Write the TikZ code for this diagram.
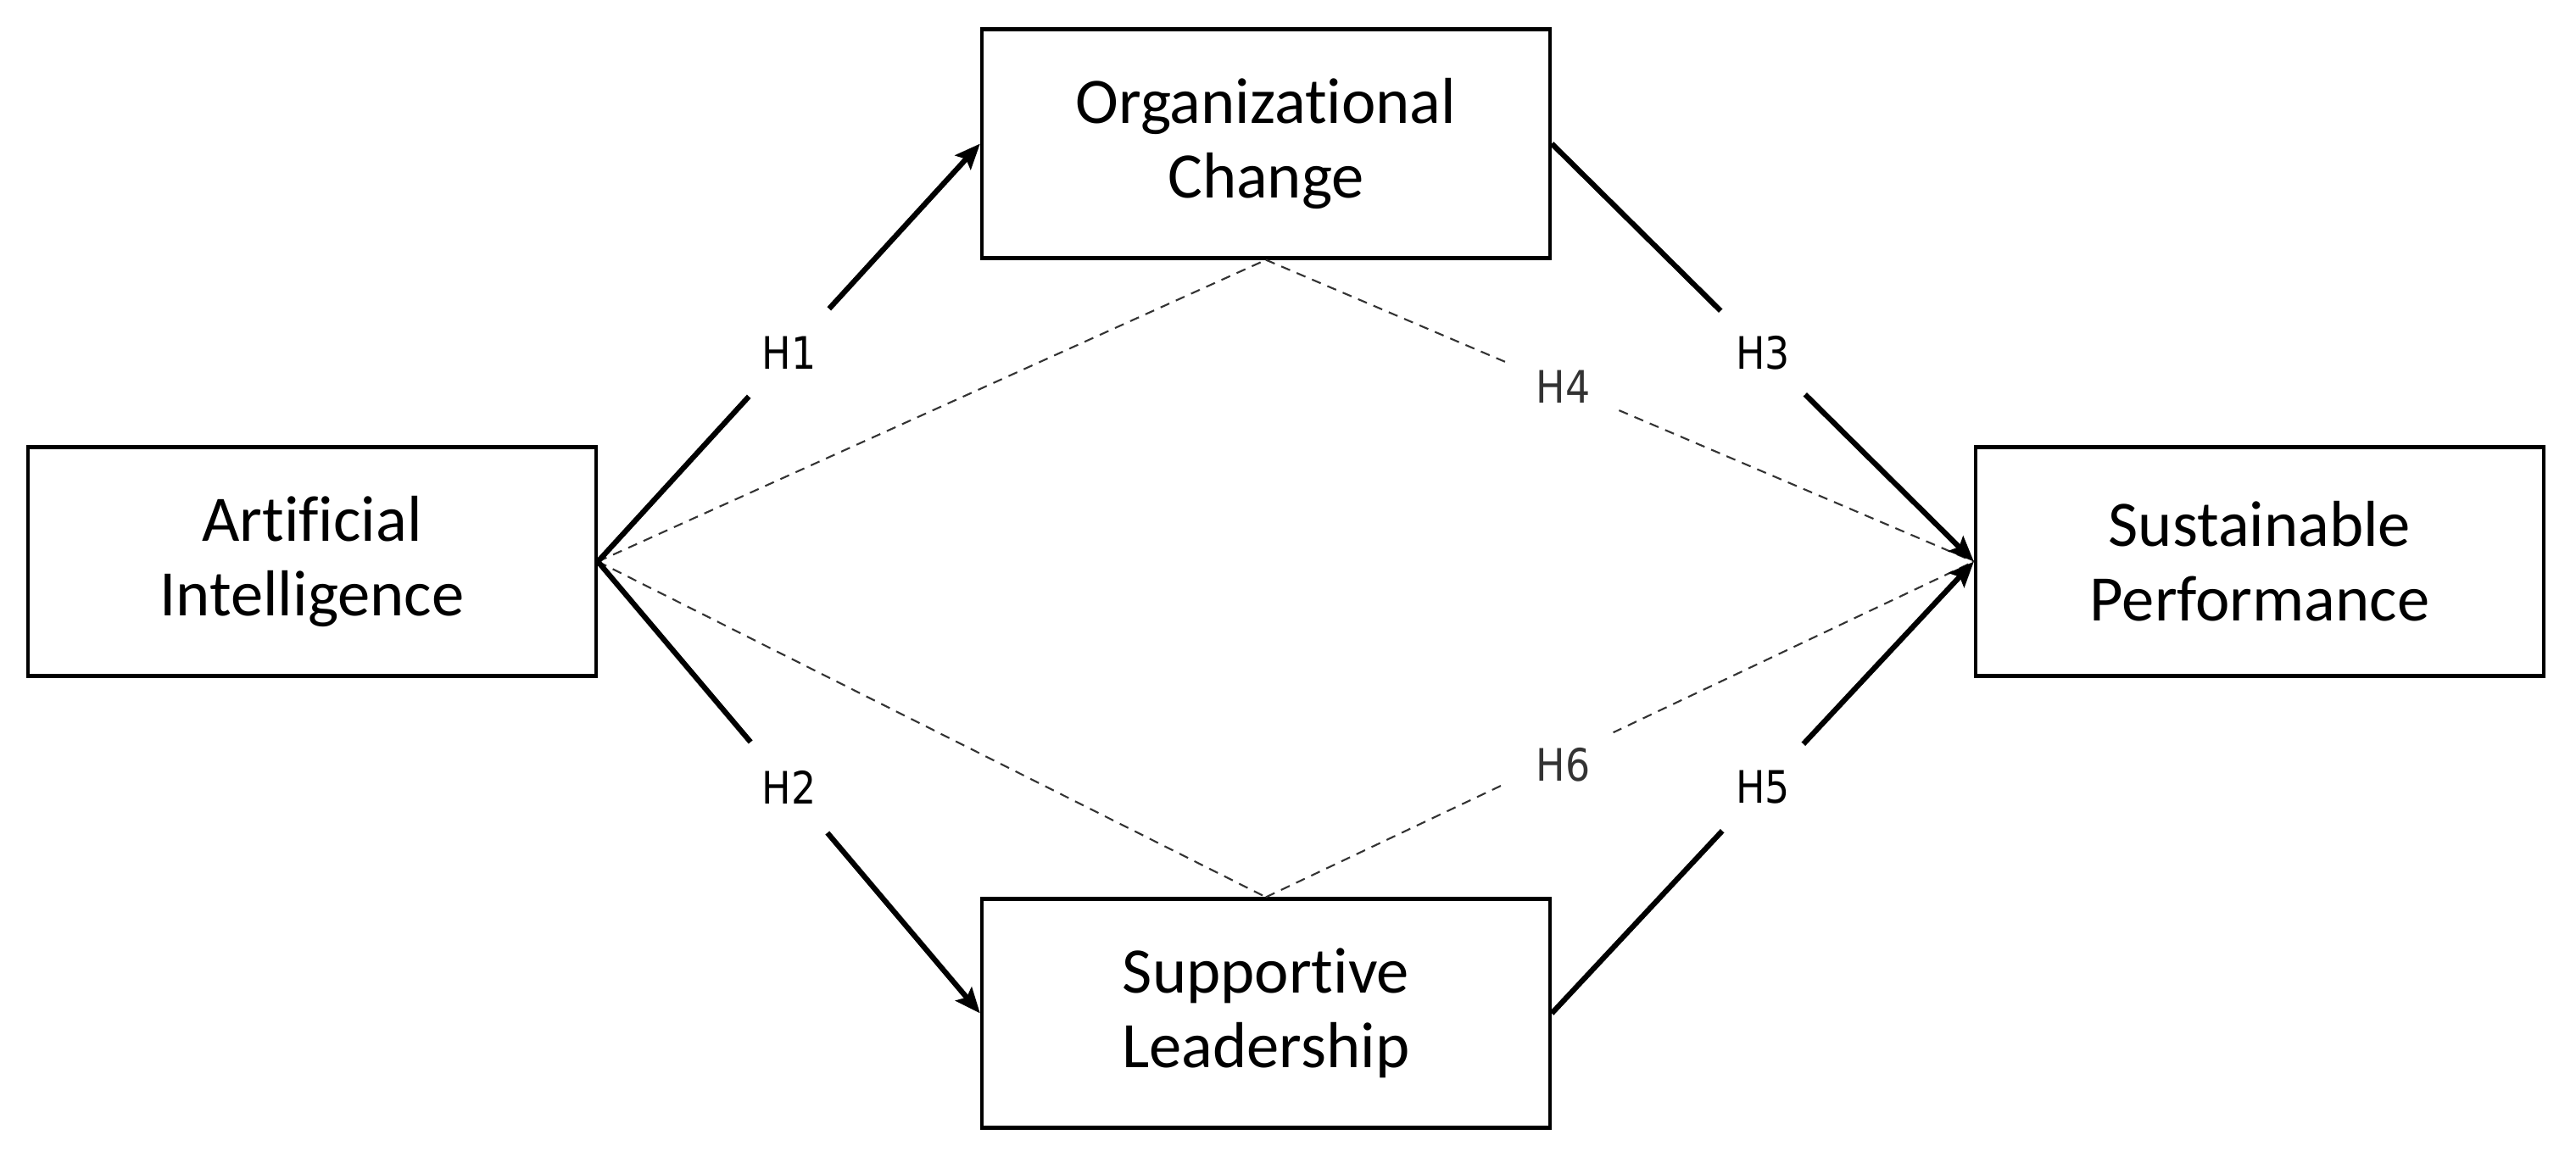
\documentclass[tikz,border=0pt]{standalone}
\usepackage{fontspec}
\setmainfont{Carlito}[Ligatures=NoCommon]
\newfontfamily\hypfont[FakeStretch=0.87]{DejaVu Sans}
\usetikzlibrary{positioning,arrows.meta,shapes.geometric}

\begin{document}
\begin{tikzpicture}[node distance=4.93cm and 11.25cm,on grid,line width=1.8pt]
\tikzset{>={Stealth[length=8.5pt,width=7pt,inset=1.5pt]}}
\tikzset{construct/.style={draw,line width=1.2pt,minimum width=6.7cm,minimum height=2.7cm,
           align=center,font=\fontsize{21.8}{25}\selectfont},
         hyp/.style={circle,fill=white,inner sep=0pt,minimum size=1.4cm,
           font=\hypfont\fontsize{15}{17}\selectfont},
         mediation/.style={dash pattern=on 3.2pt off 2.4pt,line width=0.6pt,black!80}}
\useasboundingbox (0,0) rectangle (30.38,-13.65);
\fill[white] (0,0) rectangle (30.38,-13.65);
\begin{scope}
  \node[construct] (ai) at (3.68,-6.625) {Artificial\\Intelligence};
  \node[construct] (oc) [above right=of ai] {Organizational\\Change};
  \node[construct] (sl) [below right=5.33cm and 11.25cm of ai] {Supportive\\Leadership};
  \node[construct] (sp) [right=22.97cm of ai] {Sustainable\\Performance};
\end{scope}
  % indirect paths
  \path[mediation] (ai.east) edge (oc.south);
  \path[mediation] (oc.south) edge node[hyp,pos=.42] {H4} (sp.west);
  \path[mediation] (ai.east) edge (sl.north);
  \path[mediation] (sl.north) edge node[hyp,pos=.42,yshift=-1mm] {H6} (sp.west);
  % direct paths
  \path[->] (ai.east) edge node[hyp] {H1} (oc.west);
  \path[->] (ai.east) edge node[hyp] {H2} (sl.west);
  \path[->] (oc.east) edge node[hyp] {H3} (sp.west);
  \path[->] (sl.east) edge node[hyp] {H5} (sp.west);
\end{tikzpicture}
\end{document}
